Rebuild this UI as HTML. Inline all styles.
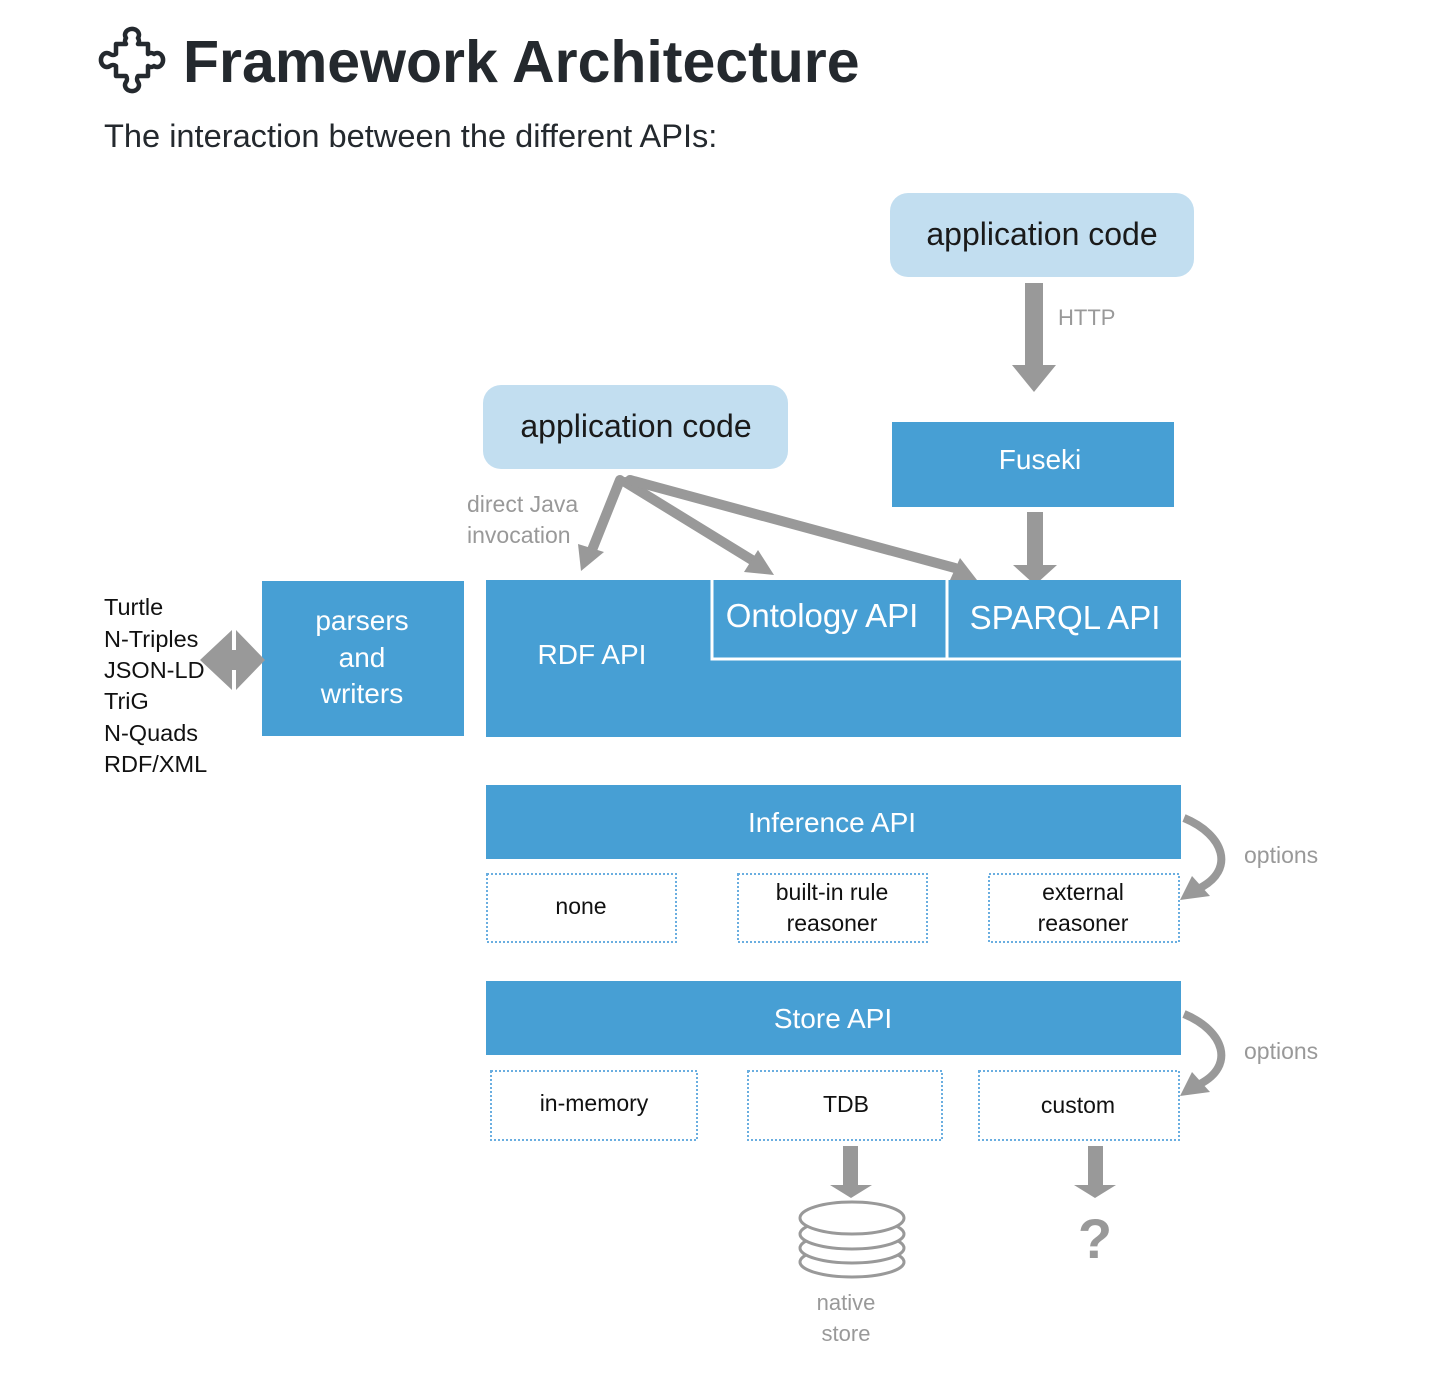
<!DOCTYPE html>
<html><head><meta charset="utf-8"><style>
html,body{margin:0;padding:0;background:#fff;width:1442px;height:1384px;overflow:hidden}
svg{display:block}
</style></head><body>
<svg width="1442" height="1384" viewBox="0 0 1442 1384" xmlns="http://www.w3.org/2000/svg" font-family="Liberation Sans, Arial, sans-serif">
<!-- title icon -->
<path d="M116 44 h10 a5 5 0 0 1 0 -6 a7 6 0 1 1 12 0 a5 5 0 0 1 0 6 h10 v10 a5 5 0 0 1 6 0 a6 7 0 1 1 0 12 a5 5 0 0 1 -6 0 v10 h-10 a5 5 0 0 0 0 6 a7 6 0 1 1 -12 0 a5 5 0 0 0 0 -6 h-10 v-10 a5 5 0 0 0 -6 0 a6 7 0 1 1 0 -12 a5 5 0 0 0 6 0 z" fill="none" stroke="#24292e" stroke-width="4.5" stroke-linejoin="round"/>
<text x="183" y="82" font-size="59" font-weight="bold" fill="#24292e">Framework Architecture</text>
<text x="104" y="147" font-size="32.6" fill="#24292e">The interaction between the different APIs:</text>

<!-- top app code -->
<rect x="890" y="193" width="304" height="84" rx="18" fill="#c2def0"/>
<text x="1042" y="245" font-size="32" text-anchor="middle" fill="#1a1a1a">application code</text>
<path d="M1025 283 h18 v82 h13 l-22 27 l-22 -27 h13 z" fill="#999"/>
<text x="1058" y="325" font-size="22" fill="#999">HTTP</text>
<rect x="892" y="422" width="282" height="85" fill="#479fd4"/>
<text x="1040" y="469" font-size="28" text-anchor="middle" fill="#fff">Fuseki</text>
<path d="M1027 512 h16 v53 h14 l-22 20 l-22 -20 h14 z" fill="#999"/>

<!-- middle app code -->
<rect x="483" y="385" width="305" height="84" rx="18" fill="#c2def0"/>
<text x="636" y="437" font-size="32" text-anchor="middle" fill="#1a1a1a">application code</text>
<text x="467" y="512" font-size="23" fill="#999">direct Java</text>
<text x="467" y="543" font-size="23" fill="#999">invocation</text>
<g stroke="#999" stroke-width="10" fill="none" stroke-linecap="round">
<line x1="620" y1="480" x2="592" y2="550"/>
<line x1="625" y1="482" x2="752" y2="560"/>
<line x1="630" y1="480" x2="955" y2="568"/>
</g>
<g fill="#999">
<polygon points="581,571 578,544 604,552"/>
<polygon points="774,575 744,572 758,550"/>
<polygon points="977,580 950,580 960,558"/>
</g>

<!-- RDF block -->
<rect x="486" y="580" width="695" height="157" fill="#479fd4"/>
<path d="M712 580 v79 h469 M947 580 v79" stroke="#fff" stroke-width="3" fill="none"/>
<text x="822" y="627" font-size="33" text-anchor="middle" fill="#fff">Ontology API</text>
<text x="1065" y="629" font-size="33" text-anchor="middle" fill="#fff">SPARQL API</text>
<text x="592" y="664" font-size="28" text-anchor="middle" fill="#fff">RDF API</text>

<rect x="262" y="581" width="202" height="155" fill="#479fd4"/>
<g font-size="28" text-anchor="middle" fill="#fff">
<text x="362" y="630">parsers</text><text x="362" y="667">and</text><text x="362" y="703">writers</text>
</g>
<g font-size="23.5" fill="#111">
<text x="104" y="615">Turtle</text><text x="104" y="647">N-Triples</text><text x="104" y="678">JSON-LD</text>
<text x="104" y="709">TriG</text><text x="104" y="741">N-Quads</text><text x="104" y="772">RDF/XML</text>
</g>
<polygon points="200,660 232,630 232,650 236,650 236,630 265,660 236,690 236,670 232,670 232,690" fill="#999"/>

<!-- Inference -->
<rect x="486" y="785" width="695" height="74" fill="#479fd4"/>
<text x="832" y="832" font-size="28" text-anchor="middle" fill="#fff">Inference API</text>
<g fill="none" stroke="#6aaee0" stroke-width="2" stroke-dasharray="2 2">
<rect x="487" y="874" width="189" height="68"/>
<rect x="738" y="874" width="189" height="68"/>
<rect x="989" y="874" width="190" height="68"/>
<rect x="491" y="1071" width="206" height="69"/>
<rect x="748" y="1071" width="194" height="69"/>
<rect x="979" y="1071" width="200" height="69"/>
</g>
<g font-size="23" text-anchor="middle" fill="#111">
<text x="581" y="914">none</text>
<text x="832" y="900">built-in rule</text><text x="832" y="931">reasoner</text>
<text x="1083" y="900">external</text><text x="1083" y="931">reasoner</text>
<text x="594" y="1111">in-memory</text>
<text x="846" y="1112">TDB</text>
<text x="1078" y="1113">custom</text>
</g>
<path d="M1184 818 C1225 835 1235 870 1200 888" stroke="#999" stroke-width="8" fill="none"/>
<polygon points="1180,900 1192,876 1210,896" fill="#999"/>
<text x="1244" y="863" font-size="23" fill="#999">options</text>

<!-- Store -->
<rect x="486" y="981" width="695" height="74" fill="#479fd4"/>
<text x="833" y="1028" font-size="28" text-anchor="middle" fill="#fff">Store API</text>
<path d="M1184 1014 C1225 1031 1235 1066 1200 1084" stroke="#999" stroke-width="8" fill="none"/>
<polygon points="1180,1096 1192,1072 1210,1092" fill="#999"/>
<text x="1244" y="1059" font-size="23" fill="#999">options</text>

<path d="M843 1146 h15 v39 h14 l-21 13 l-21 -13 h13 z" fill="#999"/>
<path d="M1088 1146 h15 v39 h13 l-21 13 l-21 -13 h14 z" fill="#999"/>
<g fill="#fff" stroke="#999" stroke-width="3">
<ellipse cx="852" cy="1262" rx="52" ry="15"/>
<ellipse cx="852" cy="1248" rx="52" ry="15"/>
<ellipse cx="852" cy="1234" rx="52" ry="15"/>
<ellipse cx="852" cy="1218" rx="52" ry="16"/>
</g>
<text x="1095" y="1258" font-size="56" font-weight="bold" text-anchor="middle" fill="#999">?</text>
<text x="846" y="1310" font-size="22" text-anchor="middle" fill="#999">native</text>
<text x="846" y="1341" font-size="22" text-anchor="middle" fill="#999">store</text>
</svg>
</body></html>
